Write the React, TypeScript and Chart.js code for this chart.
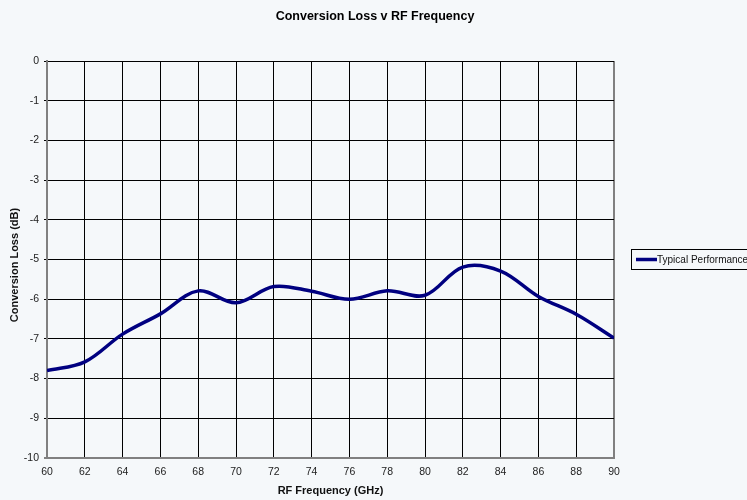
import React, { useEffect, useRef } from "react";
import { Chart, registerables } from "chart.js";

Chart.register(...registerables);

const frequencies = [60, 62, 64, 66, 68, 70, 72, 74, 76, 78, 80, 82, 84, 86, 88, 90];
const conversionLoss = [-7.8, -7.58, -6.88, -6.37, -5.79, -6.09, -5.68, -5.8, -6.0, -5.79, -5.9, -5.19, -5.29, -5.93, -6.38, -6.98];
const seriesName = "Typical Performance";
const chartTitle = "Conversion Loss v RF Frequency";
const xTitle = "RF Frequency (GHz)";
const yTitle = "Conversion Loss (dB)";

const BG = "#f5f8fa";
const FONT = "'Liberation Sans', Arial, sans-serif";

const decorations = {
  id: "decorations",
  afterDraw(chart: any) {
    const { ctx } = chart;
    const ds = chart.data.datasets[0];
    ctx.save();
    // chart title
    ctx.fillStyle = "#000";
    ctx.font = `bold 12.5px ${FONT}`;
    ctx.textAlign = "center";
    ctx.textBaseline = "middle";
    ctx.fillText(chartTitle, 375, 17);
    // y axis title
    ctx.save();
    ctx.translate(14.7, 265);
    ctx.rotate(-Math.PI / 2);
    ctx.fillStyle = "#111";
    ctx.font = `bold 11px ${FONT}`;
    ctx.fillText(yTitle, 0, 0);
    ctx.restore();
    // legend box
    ctx.fillStyle = BG;
    ctx.strokeStyle = "#000";
    ctx.lineWidth = 1;
    ctx.fillRect(631.5, 249.5, 130, 20);
    ctx.strokeRect(631.5, 249.5, 130, 20);
    ctx.strokeStyle = ds.borderColor;
    ctx.lineWidth = 3.5;
    ctx.beginPath();
    ctx.moveTo(636, 259.5);
    ctx.lineTo(657, 259.5);
    ctx.stroke();
    ctx.fillStyle = "#111";
    ctx.font = `10px ${FONT}`;
    ctx.textBaseline = "middle";
    ctx.textAlign = "left";
    ctx.fillText(ds.label, 657, 260);
    ctx.restore();
  },
};

export default function App() {
  const ref = useRef<HTMLCanvasElement | null>(null);
  useEffect(() => {
    document.body.style.background = BG;
    const ctx = ref.current!.getContext("2d")!;
    const chart = new Chart(ctx, {
      type: "line",
      data: {
        datasets: [
          {
            label: seriesName,
            data: frequencies.map((f, i) => ({ x: f, y: conversionLoss[i] })),
            borderColor: "#000080",
            backgroundColor: "#000080",
            borderWidth: 3.5,
            pointRadius: 0,
            tension: 0.35,
            fill: false,
          },
        ],
      },
      options: {
        animation: false,
        responsive: false,
        devicePixelRatio: 1,
        layout: { padding: { left: 0, right: 133, top: 61, bottom: 0 } },
        plugins: {
          legend: { display: false },
          tooltip: { enabled: false },
          title: { display: false },
        },
        scales: {
          x: {
            type: "linear",
            min: 60,
            max: 90,
            afterFit: (s: any) => {
              s.height = 42;
            },
            ticks: {
              stepSize: 2,
              color: "#222",
              padding: 8,
              maxRotation: 0,
              font: { family: FONT, size: 10.5 },
            },
            grid: {
              drawTicks: false,
              color: (c: any) => (c.tick && (c.tick.value === 90 || c.tick.value === 60) ? "#808080" : "#000"),
              lineWidth: (c: any) => (c.tick && (c.tick.value === 90 || c.tick.value === 60) ? 2 : 1),
            },
            border: { color: "#808080", width: 2 },
            title: {
              display: true,
              text: xTitle,
              color: "#111",
              font: { family: FONT, size: 11, weight: "bold" },
              padding: { top: 0, bottom: 2 },
            },
          },
          y: {
            type: "linear",
            min: -10,
            max: 0,
            afterFit: (s: any) => {
              s.width = 47;
            },
            ticks: {
              stepSize: 1,
              color: "#222",
              padding: 5,
              font: { family: FONT, size: 10.5 },
            },
            grid: {
              tickLength: 3,
              color: (c: any) => (c.tick && c.tick.value === -10 ? "#808080" : "#000"),
              lineWidth: (c: any) => (c.tick && c.tick.value === -10 ? 2 : 1),
            },
            border: { color: "#808080", width: 2 },
            title: { display: false },
          },
        },
      },
      plugins: [decorations],
    });
    return () => chart.destroy();
  }, []);
  return (
    <div style={{ position: "fixed", left: 0, top: 0, width: 747, height: 500, background: BG, overflow: "hidden" }}>
      <canvas ref={ref} width={747} height={500} style={{ width: 747, height: 500, display: "block" }} />
    </div>
  );
}
